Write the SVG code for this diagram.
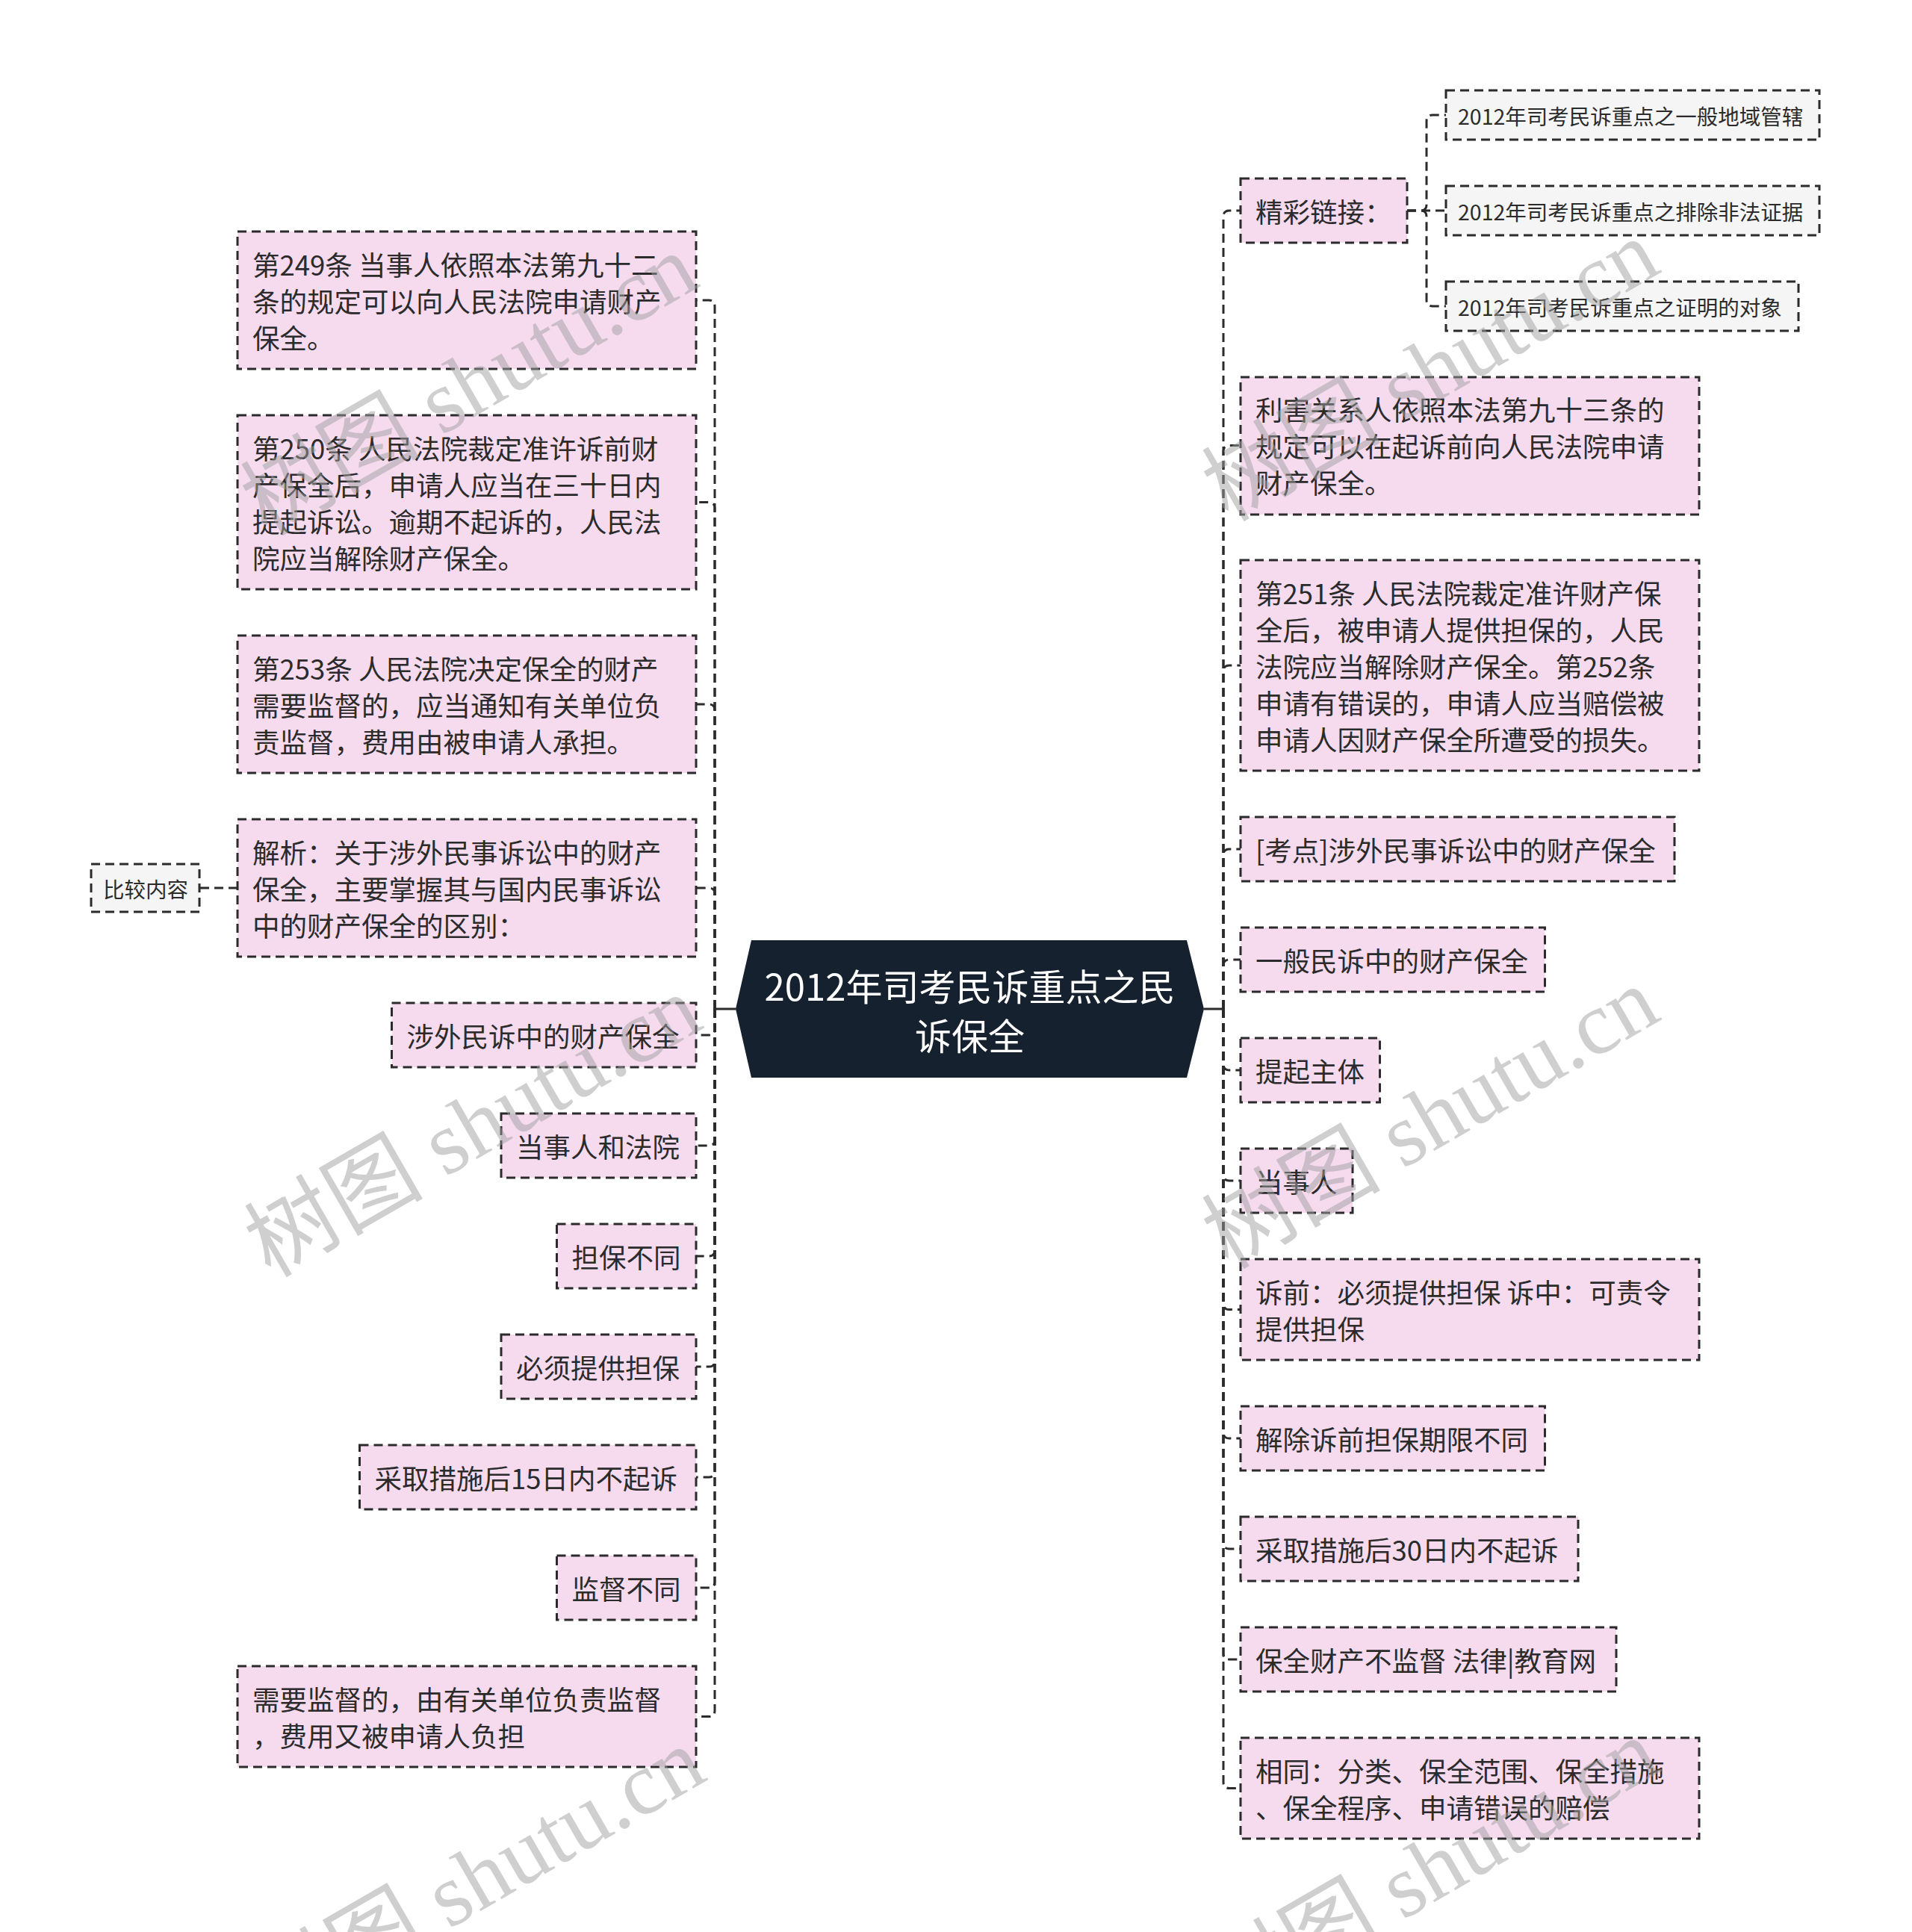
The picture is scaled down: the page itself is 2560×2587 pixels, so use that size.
<svg xmlns="http://www.w3.org/2000/svg" width="2560" height="2587" viewBox="0 0 2560 2587">
<style>
.n rect{fill:#f6dbef;stroke:#2b2b2b;stroke-width:3;stroke-dasharray:12 7}
.s rect{fill:#f5f5f5;stroke:#2b2b2b;stroke-width:3;stroke-dasharray:12 7}
.n text{font-family:"Noto Sans CJK SC","Noto Sans",sans-serif;font-size:36.5px;fill:#2b2b2b;dominant-baseline:central}
.s text{font-family:"Noto Sans CJK SC","Noto Sans",sans-serif;font-size:28.5px;fill:#2b2b2b;dominant-baseline:central}
.c text{font-family:"Noto Sans CJK SC","Noto Sans",sans-serif;font-size:49px;fill:#ffffff;dominant-baseline:central;text-anchor:middle}
#connectors path{fill:none;stroke:#2b2b2b;stroke-width:3;stroke-dasharray:12 7}
#connectors line{stroke:#2b2b2b;stroke-width:3}
.wm{font-family:"Liberation Serif","Noto Sans CJK SC",serif;font-size:120px;fill:#a0a0a0;opacity:0.5;text-anchor:end}
</style>
<rect x="0" y="0" width="2560" height="2587" fill="#ffffff"/>
<g id="connectors">
<line x1="985" y1="1351" x2="957" y2="1351"/>
<line x1="1612" y1="1351" x2="1638" y2="1351"/>
<path d="M957 1351 V410 Q957 402 949 402 H932"/>
<path d="M957 1351 V680.5 Q957 672.5 949 672.5 H932"/>
<path d="M957 1351 V951 Q957 943 949 943 H932"/>
<path d="M957 1351 V1197 Q957 1189 949 1189 H932"/>
<path d="M957 1351 V1378 Q957 1386 949 1386 H932"/>
<path d="M957 1351 V1526 Q957 1534 949 1534 H932"/>
<path d="M957 1351 V1674 Q957 1682 949 1682 H932"/>
<path d="M957 1351 V1822 Q957 1830 949 1830 H932"/>
<path d="M957 1351 V1970 Q957 1978 949 1978 H932"/>
<path d="M957 1351 V2118 Q957 2126 949 2126 H932"/>
<path d="M957 1351 V2290.5 Q957 2298.5 949 2298.5 H932"/>
<path d="M318 1189 H267"/>
<path d="M1638 1351 V290 Q1638 282 1646 282 H1661"/>
<path d="M1638 1351 V604.5 Q1638 596.5 1646 596.5 H1661"/>
<path d="M1638 1351 V899 Q1638 891 1646 891 H1661"/>
<path d="M1638 1351 V1145 Q1638 1137 1646 1137 H1661"/>
<path d="M1638 1351 V1293 Q1638 1285 1646 1285 H1661"/>
<path d="M1638 1351 V1425 Q1638 1433 1646 1433 H1661"/>
<path d="M1638 1351 V1573 Q1638 1581 1646 1581 H1661"/>
<path d="M1638 1351 V1745.5 Q1638 1753.5 1646 1753.5 H1661"/>
<path d="M1638 1351 V1918 Q1638 1926 1646 1926 H1661"/>
<path d="M1638 1351 V2066 Q1638 2074 1646 2074 H1661"/>
<path d="M1638 1351 V2214 Q1638 2222 1646 2222 H1661"/>
<path d="M1638 1351 V2386.5 Q1638 2394.5 1646 2394.5 H1661"/>
<path d="M1884 282 H1902 Q1910 282 1910 274 V162 Q1910 154 1918 154 H1936"/>
<path d="M1884 282 H1936"/>
<path d="M1884 282 H1902 Q1910 282 1910 290 V402 Q1910 410 1918 410 H1936"/>
</g>
<g id="center" class="c">
<polygon points="985,1351 1006,1259 1589,1259 1612,1351 1589,1443 1006,1443" fill="#16212f"/>
<text x="1298.5" y="1318">2012年司考民诉重点之民</text>
<text x="1298.5" y="1384">诉保全</text>
</g>
<g id="l1" class="n"><rect x="318" y="310" width="614" height="184"/>
<text x="338" y="353">第249条 当事人依照本法第九十二</text><text x="338" y="402">条的规定可以向人民法院申请财产</text><text x="338" y="451">保全。</text></g>
<g id="l2" class="n"><rect x="318" y="556" width="614" height="233"/>
<text x="338" y="599">第250条 人民法院裁定准许诉前财</text><text x="338" y="648">产保全后，申请人应当在三十日内</text><text x="338" y="697">提起诉讼。逾期不起诉的，人民法</text><text x="338" y="746">院应当解除财产保全。</text></g>
<g id="l3" class="n"><rect x="318" y="851" width="614" height="184"/>
<text x="338" y="894">第253条 人民法院决定保全的财产</text><text x="338" y="943">需要监督的，应当通知有关单位负</text><text x="338" y="992">责监督，费用由被申请人承担。</text></g>
<g id="l4" class="n"><rect x="318" y="1097" width="614" height="184"/>
<text x="338" y="1140">解析：关于涉外民事诉讼中的财产</text><text x="338" y="1189">保全，主要掌握其与国内民事诉讼</text><text x="338" y="1238">中的财产保全的区别：</text></g>
<g id="l4a" class="s"><rect x="122" y="1157" width="145" height="64"/>
<text x="138" y="1189">比较内容</text></g>
<g id="l5" class="n"><rect x="524.5" y="1343" width="407.5" height="86"/>
<text x="544.5" y="1386">涉外民诉中的财产保全</text></g>
<g id="l6" class="n"><rect x="671" y="1491" width="261" height="86"/>
<text x="691" y="1534">当事人和法院</text></g>
<g id="l7" class="n"><rect x="745.5" y="1639" width="186.5" height="86"/>
<text x="765.5" y="1682">担保不同</text></g>
<g id="l8" class="n"><rect x="671" y="1787" width="261" height="86"/>
<text x="691" y="1830">必须提供担保</text></g>
<g id="l9" class="n"><rect x="481.5" y="1935" width="450.5" height="86"/>
<text x="501.5" y="1978">采取措施后15日内不起诉</text></g>
<g id="l10" class="n"><rect x="745.5" y="2083" width="186.5" height="86"/>
<text x="765.5" y="2126">监督不同</text></g>
<g id="l11" class="n"><rect x="318" y="2231" width="614" height="135"/>
<text x="338" y="2274">需要监督的，由有关单位负责监督</text><text x="338" y="2323">，费用又被申请人负担</text></g>
<g id="r1" class="n"><rect x="1661" y="239" width="223" height="86"/>
<text x="1681" y="282">精彩链接：</text></g>
<g id="r1a" class="s"><rect x="1936" y="121" width="500" height="66"/>
<text x="1952" y="154">2012年司考民诉重点之一般地域管辖</text></g>
<g id="r1b" class="s"><rect x="1936" y="249" width="500" height="66"/>
<text x="1952" y="282">2012年司考民诉重点之排除非法证据</text></g>
<g id="r1c" class="s"><rect x="1936" y="377" width="472" height="66"/>
<text x="1952" y="410">2012年司考民诉重点之证明的对象</text></g>
<g id="r2" class="n"><rect x="1661" y="505" width="614" height="184"/>
<text x="1681" y="547.5">利害关系人依照本法第九十三条的</text><text x="1681" y="596.5">规定可以在起诉前向人民法院申请</text><text x="1681" y="645.5">财产保全。</text></g>
<g id="r3" class="n"><rect x="1661" y="750" width="614" height="282"/>
<text x="1681" y="793">第251条 人民法院裁定准许财产保</text><text x="1681" y="842">全后，被申请人提供担保的，人民</text><text x="1681" y="891">法院应当解除财产保全。第252条</text><text x="1681" y="940">申请有错误的，申请人应当赔偿被</text><text x="1681" y="989">申请人因财产保全所遭受的损失。</text></g>
<g id="r4" class="n"><rect x="1661" y="1094" width="581" height="86"/>
<text x="1681" y="1137">[考点]涉外民事诉讼中的财产保全</text></g>
<g id="r5" class="n"><rect x="1661" y="1242" width="407.5" height="86"/>
<text x="1681" y="1285">一般民诉中的财产保全</text></g>
<g id="r6" class="n"><rect x="1661" y="1390" width="186.5" height="86"/>
<text x="1681" y="1433">提起主体</text></g>
<g id="r7" class="n"><rect x="1661" y="1538" width="150" height="86"/>
<text x="1681" y="1581">当事人</text></g>
<g id="r8" class="n"><rect x="1661" y="1686" width="614" height="135"/>
<text x="1681" y="1729">诉前：必须提供担保 诉中：可责令</text><text x="1681" y="1778">提供担保</text></g>
<g id="r9" class="n"><rect x="1661" y="1883" width="407.5" height="86"/>
<text x="1681" y="1926">解除诉前担保期限不同</text></g>
<g id="r10" class="n"><rect x="1661" y="2031" width="452" height="86"/>
<text x="1681" y="2074">采取措施后30日内不起诉</text></g>
<g id="r11" class="n"><rect x="1661" y="2179" width="503" height="86"/>
<text x="1681" y="2222">保全财产不监督 法律|教育网</text></g>
<g id="r12" class="n"><rect x="1661" y="2327" width="614" height="135"/>
<text x="1681" y="2370">相同：分类、保全范围、保全措施</text><text x="1681" y="2419">、保全程序、申请错误的赔偿</text></g>
<g id="watermarks">
<text class="wm" x="940" y="382" transform="rotate(-30 940 382)">树图 shutu.cn</text>
<text class="wm" x="945" y="1375" transform="rotate(-30 945 1375)">树图 shutu.cn</text>
<text class="wm" x="950" y="2382" transform="rotate(-30 950 2382)">树图 shutu.cn</text>
<text class="wm" x="2227" y="363" transform="rotate(-30 2227 363)">树图 shutu.cn</text>
<text class="wm" x="2227" y="1364" transform="rotate(-30 2227 1364)">树图 shutu.cn</text>
<text class="wm" x="2227" y="2370" transform="rotate(-30 2227 2370)">树图 shutu.cn</text>
</g>
</svg>
